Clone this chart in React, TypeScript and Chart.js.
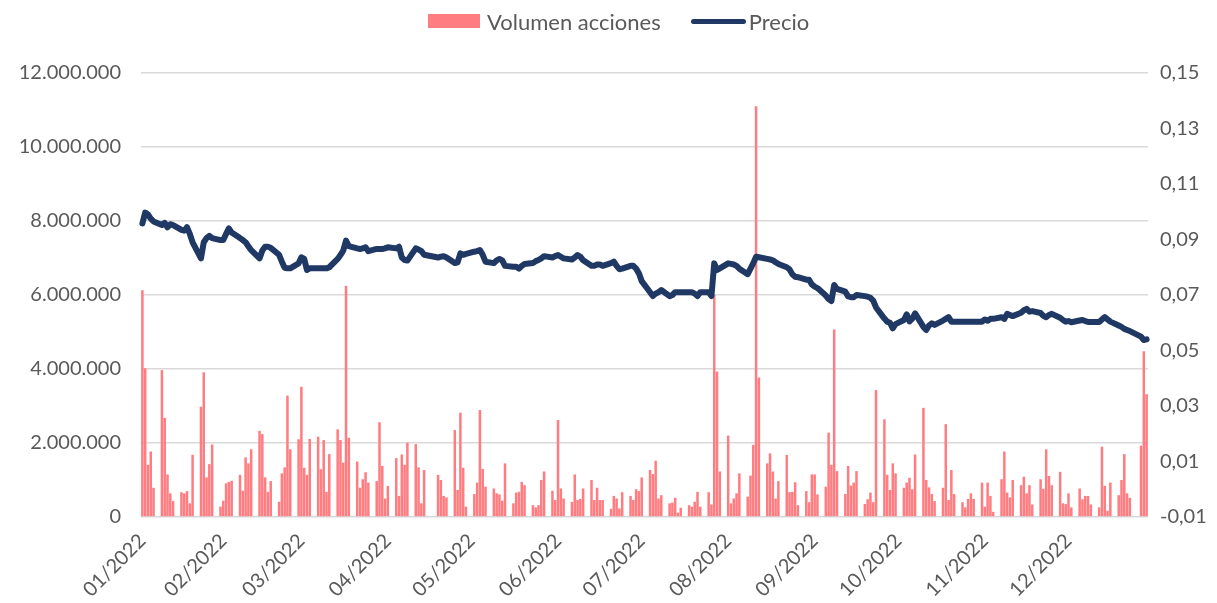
import React, { useEffect, useRef } from 'react';
import { Chart, registerables } from 'chart.js';

Chart.register(...registerables);

// ---------- data ----------
const FIRST_DAY = '2022-01-03';
const LAST_DAY = '2022-12-29';
const MARKET_HOLIDAYS = ['2022-04-15', '2022-04-18', '2022-12-26'];
const MONTH_LABELS = ['01/2022', '02/2022', '03/2022', '04/2022', '05/2022', '06/2022', '07/2022', '08/2022', '09/2022', '10/2022', '11/2022', '12/2022'];
const SERIES_NAMES = ['Volumen acciones', 'Precio'];

// Volume (millions of shares) per trading day
const volJan = [6.13, 4.02, 1.41, 1.77, 0.79, 3.97, 2.68, 1.15, 0.64, 0.43, 0.67, 0.64, 0.70, 0.37, 1.68, 2.98, 3.91, 1.07, 1.43, 1.96, 0.28];
const volFeb = [0.44, 0.91, 0.95, 0.98, 1.14, 0.71, 1.61, 1.45, 1.83, 2.33, 2.24, 1.07, 0.68, 0.97, 0.41, 1.18, 1.34, 3.28, 1.83, 2.10];
const volMar = [3.52, 1.33, 1.14, 2.11, 2.17, 1.29, 2.08, 0.68, 1.70, 2.37, 2.08, 1.47, 6.25, 2.14, 1.50, 0.79, 1.02, 1.21, 0.93, 0.97, 2.56, 1.38, 0.50];
const volApr = [0.84, 1.59, 0.57, 1.69, 1.41, 2.01, 1.97, 1.34, 0.37, 1.27, 1.14, 1.00, 0.57, 0.53, 2.35, 0.73, 2.82, 1.33, 0.28];
const volMay = [0.62, 0.93, 2.89, 1.30, 0.82, 0.77, 0.64, 0.61, 0.44, 1.45, 0.37, 0.66, 0.68, 0.95, 0.86, 0.32, 0.26, 0.32, 1.00, 1.23, 0.71, 0.46];
const volJun = [2.62, 0.77, 0.50, 0.41, 1.15, 0.46, 0.49, 0.77, 1.00, 0.46, 0.79, 0.46, 0.46, 0.22, 0.57, 0.50, 0.23, 0.67, 0.57, 0.46, 0.75, 0.70];
const volJul = [1.07, 1.27, 1.16, 1.52, 0.50, 0.59, 0.37, 0.39, 0.52, 0.12, 0.25, 0.32, 0.28, 0.41, 0.68, 0.28, 0.67, 0.34, 6.00, 3.93, 1.23];
const volAug = [2.20, 0.37, 0.50, 0.64, 1.18, 0.55, 1.12, 1.95, 11.1, 3.77, 1.45, 1.72, 1.23, 0.50, 0.97, 1.68, 0.67, 0.68, 0.94, 0.32, 0.70, 0.40, 1.15];
const volSep = [1.15, 0.61, 0.82, 2.28, 1.41, 5.07, 1.24, 0.62, 1.38, 0.85, 0.93, 1.24, 0.35, 0.48, 0.66, 0.40, 3.43, 2.64, 1.14, 0.73, 1.45, 1.18];
const volOct = [0.79, 0.93, 1.06, 0.75, 1.69, 2.95, 1.00, 0.80, 0.62, 0.43, 0.79, 2.51, 0.46, 1.27, 0.62, 0.40, 0.26, 0.49, 0.64, 0.49, 0.93];
const volNov = [0.28, 0.93, 0.57, 0.14, 1.02, 1.77, 0.66, 0.53, 1.00, 0.86, 1.09, 0.64, 0.86, 0.34, 1.02, 0.76, 1.83, 1.11, 0.86, 1.22, 0.37, 0.35];
const volDec = [0.64, 0.26, 0.77, 0.48, 0.57, 0.57, 0.34, 0.26, 1.90, 0.84, 0.17, 0.93, 0.59, 1.00, 1.70, 0.64, 0.52, 1.93, 4.48, 3.32];

// Closing price per trading day
const priceJan = [0.0958, 0.0997, 0.0990, 0.0975, 0.0965, 0.0952, 0.0960, 0.0944, 0.0955, 0.0952, 0.0935, 0.0932, 0.0944, 0.0920, 0.0890, 0.0832, 0.0890, 0.0905, 0.0913, 0.0905, 0.0898];
const priceFeb = [0.0898, 0.0920, 0.0940, 0.0925, 0.0905, 0.0898, 0.0890, 0.0875, 0.0862, 0.0832, 0.0860, 0.0874, 0.0874, 0.0870, 0.0845, 0.0820, 0.0798, 0.0796, 0.0796, 0.0814];
const priceMar = [0.0836, 0.0830, 0.0790, 0.0796, 0.0796, 0.0796, 0.0796, 0.0796, 0.0800, 0.0830, 0.0844, 0.0860, 0.0896, 0.0876, 0.0868, 0.0866, 0.0868, 0.0872, 0.0858, 0.0866, 0.0866, 0.0866, 0.0868];
const priceApr = [0.0872, 0.0868, 0.0874, 0.0835, 0.0826, 0.0824, 0.0868, 0.0864, 0.0858, 0.0845, 0.0835, 0.0838, 0.0840, 0.0835, 0.0815, 0.0818, 0.0850, 0.0845, 0.0848];
const priceMay = [0.0856, 0.0858, 0.0862, 0.0845, 0.0820, 0.0815, 0.0825, 0.0830, 0.0825, 0.0805, 0.0802, 0.0802, 0.0795, 0.0805, 0.0812, 0.0815, 0.0822, 0.0826, 0.0832, 0.0840, 0.0835, 0.0840];
const priceJun = [0.0844, 0.0838, 0.0832, 0.0828, 0.0835, 0.0844, 0.0838, 0.0825, 0.0805, 0.0805, 0.0810, 0.0810, 0.0805, 0.0815, 0.0820, 0.0805, 0.0793, 0.0795, 0.0805, 0.0805, 0.0795, 0.0778];
const priceJul = [0.0750, 0.0710, 0.0696, 0.0705, 0.0710, 0.0718, 0.0696, 0.0700, 0.0710, 0.0710, 0.0710, 0.0710, 0.0710, 0.0705, 0.0696, 0.0710, 0.0710, 0.0696, 0.0814, 0.0790, 0.0796];
const priceAug = [0.0814, 0.0812, 0.0810, 0.0805, 0.0795, 0.0775, 0.0795, 0.0815, 0.0838, 0.0836, 0.0830, 0.0828, 0.0825, 0.0818, 0.0812, 0.0800, 0.0792, 0.0775, 0.0766, 0.0764, 0.0755, 0.0755, 0.0738];
const priceSep = [0.0730, 0.0725, 0.0698, 0.0685, 0.0678, 0.0736, 0.0722, 0.0712, 0.0695, 0.0692, 0.0692, 0.0700, 0.0696, 0.0694, 0.0690, 0.0680, 0.0655, 0.0615, 0.0604, 0.0600, 0.0580, 0.0595];
const priceOct = [0.0610, 0.0630, 0.0605, 0.0615, 0.0634, 0.0585, 0.0574, 0.0590, 0.0598, 0.0592, 0.0608, 0.0614, 0.0620, 0.0604, 0.0604, 0.0604, 0.0604, 0.0604, 0.0604, 0.0604, 0.0604];
const priceNov = [0.0612, 0.0607, 0.0614, 0.0614, 0.0620, 0.0614, 0.0632, 0.0628, 0.0624, 0.0636, 0.0645, 0.0650, 0.0640, 0.0642, 0.0635, 0.0625, 0.0620, 0.0628, 0.0632, 0.0618, 0.0610, 0.0604];
const priceDec = [0.0606, 0.0602, 0.0608, 0.0610, 0.0606, 0.0603, 0.0603, 0.0603, 0.0612, 0.0620, 0.0612, 0.0604, 0.0590, 0.0585, 0.0578, 0.0574, 0.0570, 0.0550, 0.0538, 0.0540];

const VOLUME_M = [...volJan, ...volFeb, ...volMar, ...volApr, ...volMay, ...volJun, ...volJul, ...volAug, ...volSep, ...volOct, ...volNov, ...volDec];
const PRICE = [...priceJan, ...priceFeb, ...priceMar, ...priceApr, ...priceMay, ...priceJun, ...priceJul, ...priceAug, ...priceSep, ...priceOct, ...priceNov, ...priceDec];

// ---------- build calendar-day table (weekends / holidays empty) ----------
const LABELS: string[] = [];
const TICK_LABELS: string[] = [];
const VOL_DATA: (number | null)[] = [];
const PRICE_DATA: (number | null)[] = [];
(() => {
  const start = new Date(FIRST_DAY + 'T00:00:00Z');
  const end = new Date(LAST_DAY + 'T00:00:00Z');
  let k = 0;
  for (let d = new Date(start); d <= end; d.setUTCDate(d.getUTCDate() + 1)) {
    const iso = d.toISOString().slice(0, 10);
    LABELS.push(iso);
    const idx = LABELS.length - 1;
    TICK_LABELS.push(idx === 0 || d.getUTCDate() === 1 ? MONTH_LABELS[d.getUTCMonth()] : '');
    const dow = d.getUTCDay();
    if (dow === 0 || dow === 6 || MARKET_HOLIDAYS.includes(iso) || k >= VOLUME_M.length) {
      VOL_DATA.push(null);
      PRICE_DATA.push(null);
    } else {
      VOL_DATA.push(VOLUME_M[k] * 1e6);
      PRICE_DATA.push(PRICE[k]);
      k++;
    }
  }
})();

const BAR_COLOR = '#FF7C80';
const LINE_COLOR = '#1F3864';
const TEXT_COLOR = '#595959';
const GRID_COLOR = '#D9D9D9';
const FONT_FAMILY = 'Lato, "Open Sans", sans-serif';

const fmtThousands = (v: number) => Math.round(v).toString().replace(/\B(?=(\d{3})+(?!\d))/g, '.');
const fmtPrice = (v: number) => v.toFixed(2).replace('.', ',');

export default function App() {
  const canvasRef = useRef<HTMLCanvasElement>(null);

  useEffect(() => {
    const canvas = canvasRef.current;
    if (!canvas) return;
    const chart = new Chart(canvas, {
      type: 'bar',
      data: {
        labels: LABELS,
        datasets: [
          {
            type: 'line',
            label: SERIES_NAMES[1],
            data: PRICE_DATA,
            yAxisID: 'y1',
            borderColor: LINE_COLOR,
            backgroundColor: LINE_COLOR,
            borderWidth: 6,
            pointRadius: 0,
            tension: 0,
            spanGaps: true,
            borderCapStyle: 'round',
            borderJoinStyle: 'round',
            order: 0,
          } as any,
          {
            type: 'bar',
            label: SERIES_NAMES[0],
            data: VOL_DATA,
            yAxisID: 'y',
            backgroundColor: BAR_COLOR,
            borderWidth: 0,
            barPercentage: 0.9,
            categoryPercentage: 1,
            order: 1,
          } as any,
        ],
      },
      options: {
        responsive: false,
        animation: false,
        events: [],
        layout: { padding: { top: 73, left: 0, right: 0, bottom: 0 } },
        plugins: {
          legend: { display: false },
          tooltip: { enabled: false },
        },
        scales: {
          x: {
            type: 'category',
            offset: true,
            grid: { display: false },
            border: { display: false },
            ticks: {
              autoSkip: false,
              minRotation: 45,
              maxRotation: 45,
              padding: 4,
              color: TEXT_COLOR,
              font: { family: FONT_FAMILY, size: 20 },
              callback: (_v: any, i: number) => TICK_LABELS[i],
            },
            afterFit: (s: any) => { s.height = 86; },
          },
          y: {
            position: 'left',
            min: 0,
            max: 12000000,
            ticks: {
              stepSize: 2000000,
              padding: 20,
              color: TEXT_COLOR,
              font: { family: FONT_FAMILY, size: 20 },
              callback: (v: any) => fmtThousands(Number(v)),
            },
            grid: { color: GRID_COLOR, lineWidth: 1.5, drawTicks: false },
            border: { display: false },
            afterFit: (s: any) => { s.width = 141; },
          },
          y1: {
            position: 'right',
            min: -0.01,
            max: 0.15,
            ticks: {
              stepSize: 0.02,
              padding: 12,
              color: TEXT_COLOR,
              font: { family: FONT_FAMILY, size: 20 },
              callback: (v: any) => fmtPrice(Number(v)),
            },
            grid: { display: false, drawTicks: false },
            border: { display: false },
            afterFit: (s: any) => { s.width = 69; },
          },
        },
      } as any,
    });
    return () => chart.destroy();
  }, []);

  return (
    <div style={{ position: 'absolute', left: 0, top: 0, width: 1217, height: 603, background: '#ffffff' }}>
      <div
        style={{
          position: 'absolute',
          top: 0,
          left: 428,
          height: 42,
          display: 'flex',
          alignItems: 'center',
          fontFamily: FONT_FAMILY,
          fontSize: 22,
          color: TEXT_COLOR,
          whiteSpace: 'nowrap',
        }}
      >
        <span style={{ display: 'inline-block', width: 52, height: 14, background: BAR_COLOR, marginRight: 7 }} />
        <span style={{ marginRight: 30 }}>{SERIES_NAMES[0]}</span>
        <span style={{ display: 'inline-block', width: 55, height: 5, borderRadius: 3, background: LINE_COLOR, marginRight: 3 }} />
        <span>{SERIES_NAMES[1]}</span>
      </div>
      <canvas ref={canvasRef} width={1217} height={603} style={{ display: 'block' }} />
    </div>
  );
}
